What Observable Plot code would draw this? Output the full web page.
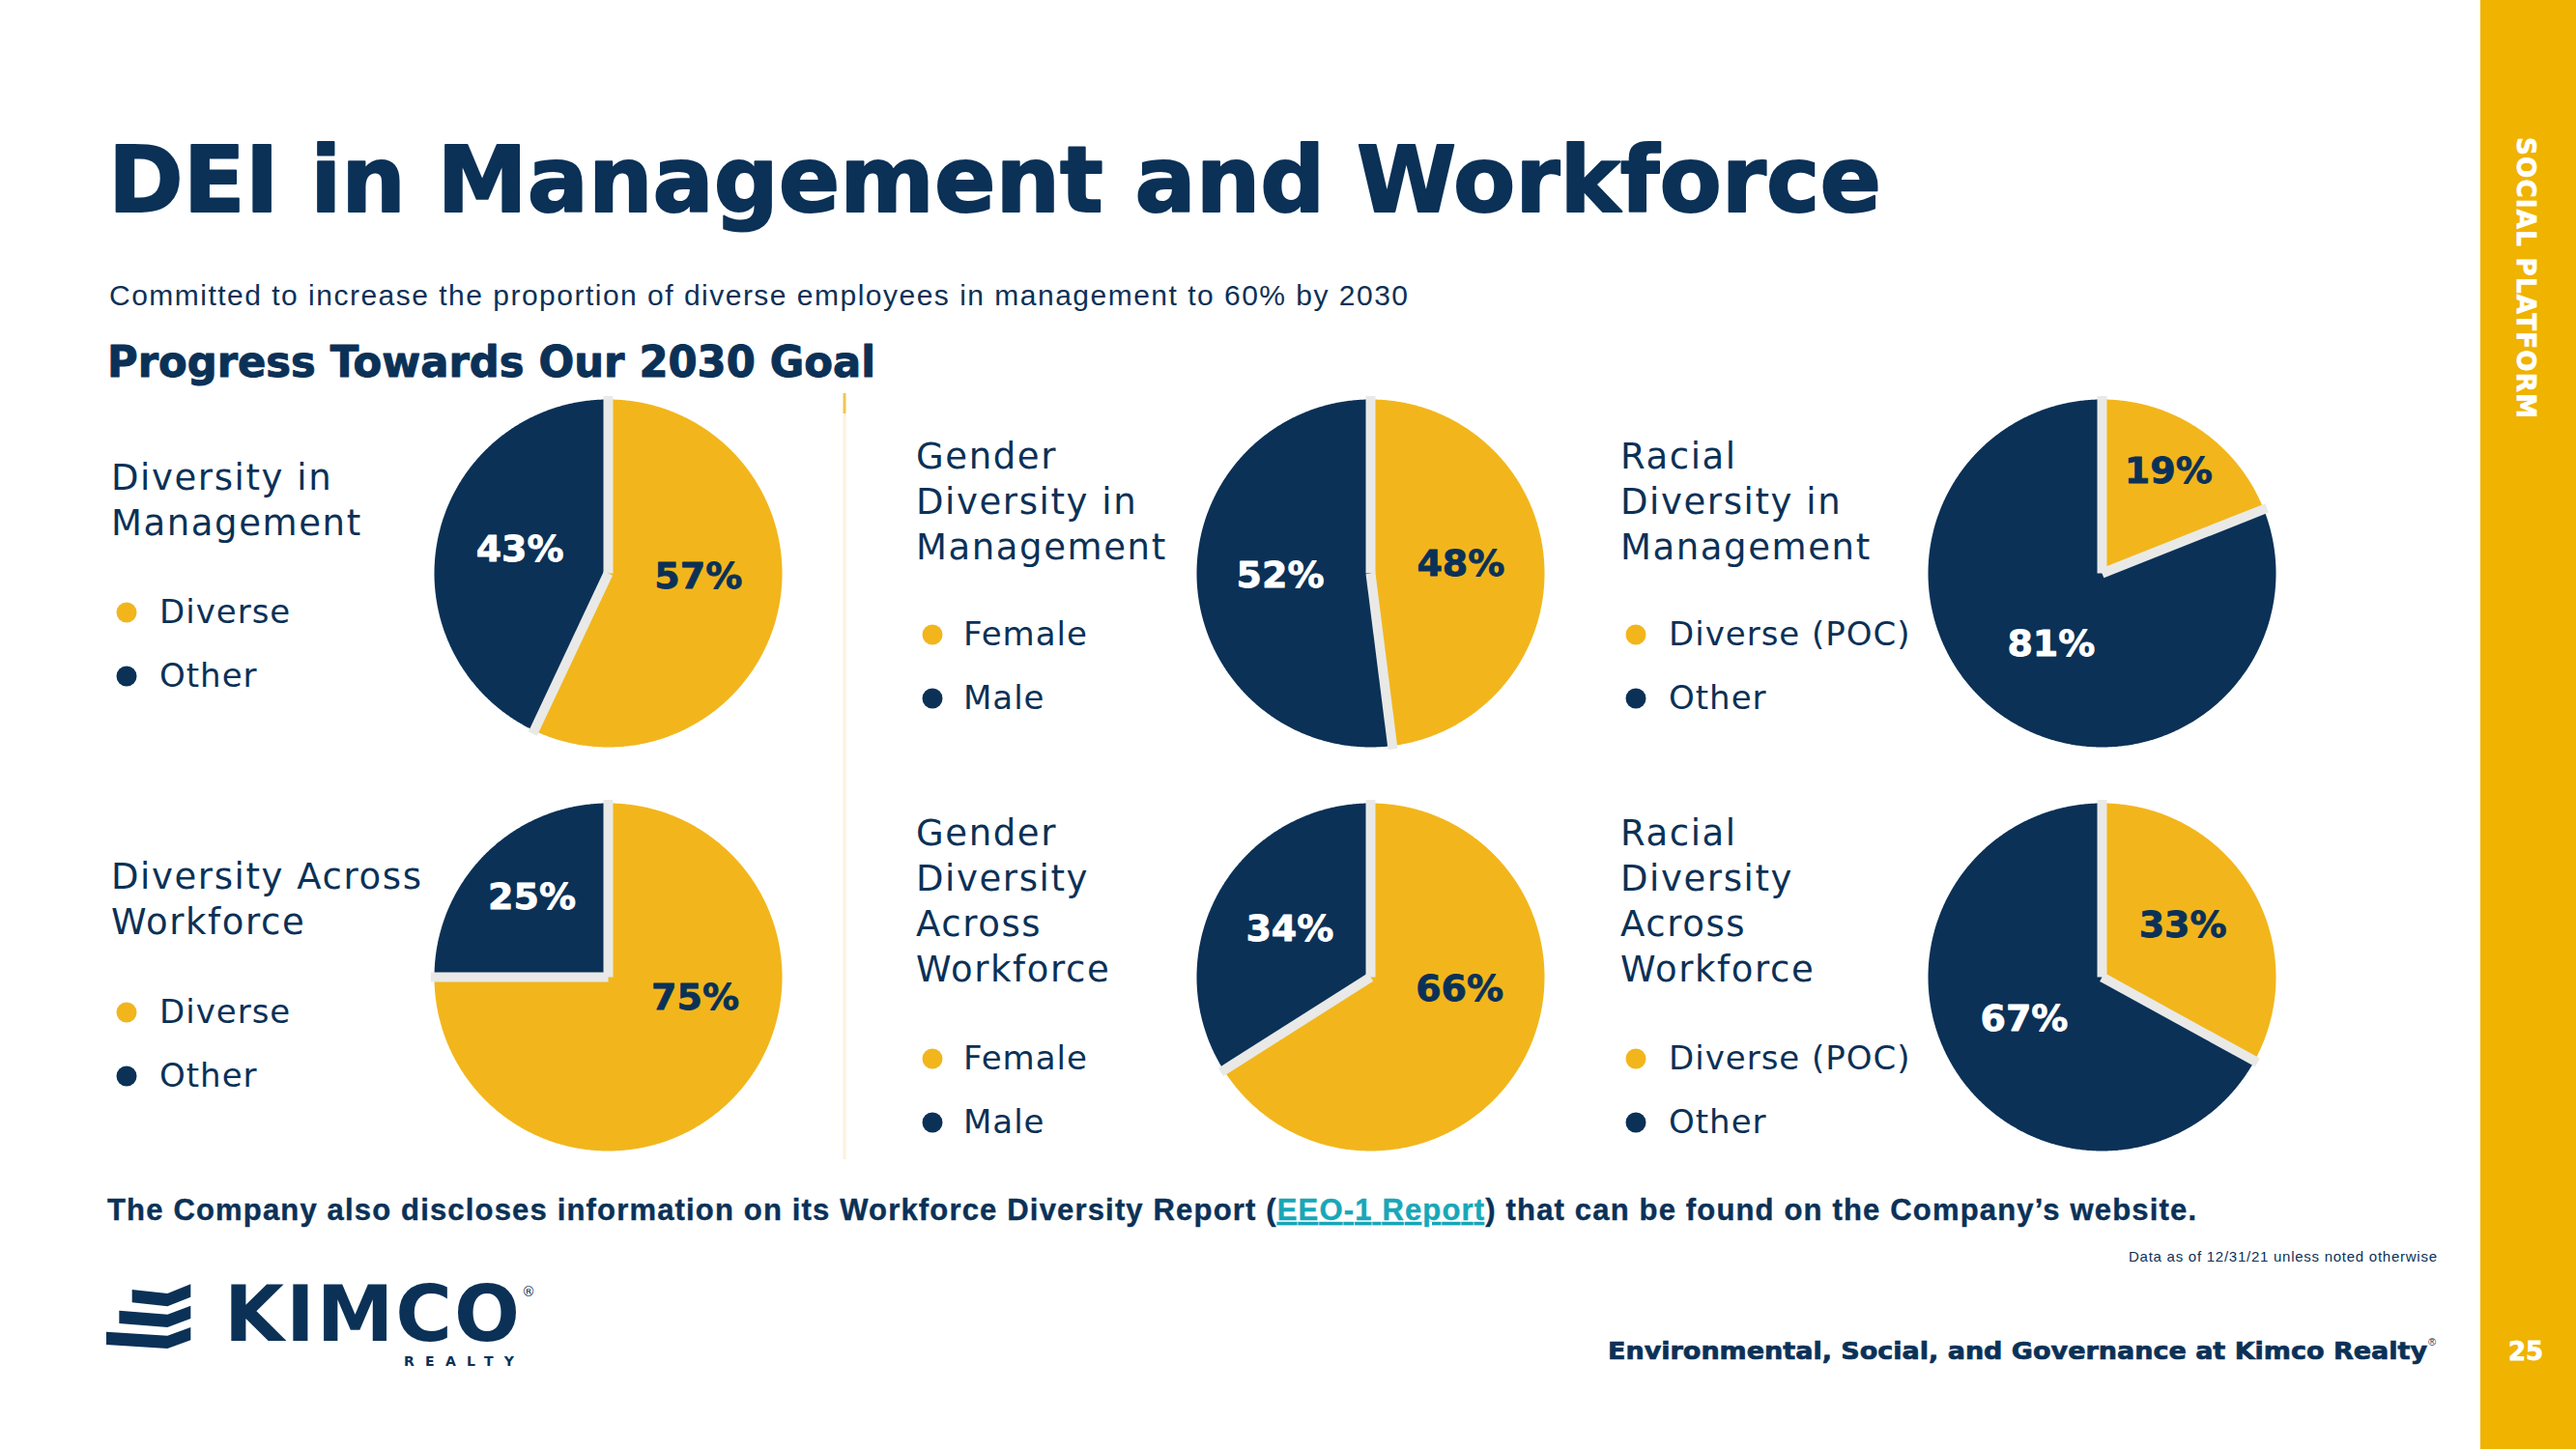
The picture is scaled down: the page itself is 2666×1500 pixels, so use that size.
<!DOCTYPE html>
<html><head><meta charset="utf-8">
<script src="https://cdn.jsdelivr.net/npm/d3@7"></script>
<script src="https://cdn.jsdelivr.net/npm/@observablehq/plot@0.6"></script>
<style>
html,body{margin:0;padding:0;background:#fff;}
#page{position:relative;width:2666px;height:1500px;overflow:hidden;background:#fff;}
#page svg.pie{position:absolute;background:transparent !important;max-width:none;}
#overlay{position:absolute;left:0;top:0;}
</style></head>
<body><div id="page"></div>
<script>
// ---------- data ----------
const pieTitles = [
  "Diversity in\nManagement",
  "Gender\nDiversity in\nManagement",
  "Racial\nDiversity in\nManagement",
  "Diversity Across\nWorkforce",
  "Gender\nDiversity\nAcross\nWorkforce",
  "Racial\nDiversity\nAcross\nWorkforce"
];
const primaryLabels = ["Diverse", "Female", "Diverse (POC)", "Diverse", "Female", "Diverse (POC)"];
const secondaryLabels = ["Other", "Male", "Other", "Other", "Male", "Other"];
const primaryValues = [57, 48, 19, 75, 66, 33];
const secondaryValues = [43, 52, 81, 25, 34, 67];

const pageTitle = "DEI in Management and Workforce";
const pageSubtitle = "Committed to increase the proportion of diverse employees in management to 60% by 2030";
const sectionTitle = "Progress Towards Our 2030 Goal";
const footerParts = ["The Company also discloses information on its Workforce Diversity Report (", "EEO-1 Report", ") that can be found on the Company\u2019s website."];
const dataNote = "Data as of 12/31/21 unless noted otherwise";
const footerBrand = "Environmental, Social, and Governance at Kimco Realty";
const sideLabel = "SOCIAL PLATFORM";
const pageNumber = "25";

// ---------- style ----------
const NAVY = "#0b3157", GOLD = "#f2b61c", SEP = "#e9e9e7", SIDEBAR = "#efb300", TEAL = "#17a7b8";
const allLabels = ["Diverse", "Female", "Diverse (POC)", "Other", "Male"];
const allColors = [GOLD, GOLD, GOLD, NAVY, NAVY];
const HEAVY = "DejaVu Sans, Verdana, sans-serif";

// ---------- layout ----------
const colCenter = [629, 1418, 2175], rowCenter = [593, 1011];
const titleX = [115, 948, 1677], dotX = [131, 965, 1693], legX = [165, 997, 1727];
const titleBase = [507, 485, 485, 920, 875, 875];
const legendBase = [645, 668, 668, 1059, 1107, 1107];
const R = 180, HALF = 200;

const page = d3.select("#page");
const svg = page.append("svg").attr("id", "overlay").attr("width", 2666).attr("height", 1500);

// sidebar
svg.append("rect").attr("x", 2567).attr("y", 0).attr("width", 99).attr("height", 1500).attr("fill", SIDEBAR);
svg.append("text").attr("transform", "translate(2605,142) rotate(90)")
  .attr("font-family", HEAVY).attr("font-weight", "bold").attr("font-size", 26)
  .attr("fill", "#fff").attr("stroke", "#fff").attr("stroke-width", 0.8)
  .attr("textLength", 291).attr("lengthAdjust", "spacing").text(sideLabel);
svg.append("text").attr("x", 2614).attr("y", 1408).attr("text-anchor", "middle")
  .attr("font-family", HEAVY).attr("font-weight", "bold").attr("font-size", 26)
  .attr("fill", "#fff").attr("stroke", "#fff").attr("stroke-width", 0.8).text(pageNumber);

// header
svg.append("text").attr("x", 112).attr("y", 219)
  .attr("font-family", HEAVY).attr("font-weight", "bold").attr("font-size", 95)
  .attr("fill", NAVY).attr("stroke", NAVY).attr("stroke-width", 2).attr("stroke-linejoin", "round")
  .attr("textLength", 1835).attr("lengthAdjust", "spacingAndGlyphs").text(pageTitle);
svg.append("text").attr("x", 113).attr("y", 316)
  .attr("font-family", "Liberation Sans Narrow, Arial Narrow, Liberation Sans, sans-serif").attr("font-size", 30)
  .attr("fill", NAVY).attr("textLength", 1344).attr("lengthAdjust", "spacing").text(pageSubtitle);
svg.append("text").attr("x", 111).attr("y", 390)
  .attr("font-family", HEAVY).attr("font-weight", "bold").attr("font-size", 44)
  .attr("fill", NAVY).attr("stroke", NAVY).attr("stroke-width", 1).attr("stroke-linejoin", "round")
  .attr("textLength", 795).attr("lengthAdjust", "spacingAndGlyphs").text(sectionTitle);

// divider
svg.append("line").attr("x1", 874).attr("x2", 874).attr("y1", 428).attr("y2", 1200).attr("stroke", "#faf2dc").attr("stroke-width", 3);
svg.append("line").attr("x1", 874).attr("x2", 874).attr("y1", 407).attr("y2", 428).attr("stroke", "#f2c452").attr("stroke-width", 3);

// footer
const ft = svg.append("text").attr("x", 111).attr("y", 1263)
  .attr("font-family", "Liberation Sans Narrow, Arial Narrow, Liberation Sans, sans-serif").attr("font-weight", "bold").attr("font-size", 31)
  .attr("fill", NAVY).attr("stroke", NAVY).attr("stroke-width", 0.4)
  .attr("textLength", 2162).attr("lengthAdjust", "spacing");
ft.append("tspan").text(footerParts[0]);
ft.append("tspan").attr("fill", TEAL).attr("stroke", TEAL).style("text-decoration", "underline").text(footerParts[1]);
ft.append("tspan").text(footerParts[2]);

svg.append("text").attr("x", 2522).attr("y", 1306).attr("text-anchor", "end")
  .attr("font-family", "Liberation Sans, Arial, sans-serif").attr("font-size", 15)
  .attr("fill", NAVY).attr("textLength", 319).attr("lengthAdjust", "spacing").text(dataNote);
svg.append("text").attr("x", 2512).attr("y", 1407).attr("text-anchor", "end")
  .attr("font-family", HEAVY).attr("font-weight", "bold").attr("font-size", 24)
  .attr("fill", NAVY).attr("stroke", NAVY).attr("stroke-width", 0.7)
  .attr("textLength", 848).attr("lengthAdjust", "spacingAndGlyphs").text(footerBrand);
svg.append("text").attr("x", 2513).attr("y", 1393)
  .attr("font-family", "Liberation Sans, Arial, sans-serif").attr("font-size", 11).attr("fill", NAVY).text("\u00AE");

// logo
const logo = svg.append("g").attr("fill", NAVY);
const zx = v => 90 + v / 3, zy = v => 1300 + v / 3;
[[140, 105], [100, 170], [60, 236]].forEach(([lx, ty], k) => {
  const top = ty, rTop = 88 + k * 67;
  const pts = [[lx, top], [250, top + 12], [322, rTop], [322, rTop + 40], [250, top + 52], [lx, top + 40]];
  logo.append("polygon").attr("points", pts.map(([a, b]) => zx(a) + "," + zy(b)).join(" "));
});
logo.append("text").attr("x", 232).attr("y", 1388)
  .attr("font-family", HEAVY).attr("font-weight", "bold").attr("font-size", 80)
  .attr("textLength", 306).attr("lengthAdjust", "spacing").text("KIMCO");
logo.append("text").attr("x", 418).attr("y", 1414)
  .attr("font-family", HEAVY).attr("font-weight", "bold").attr("font-size", 14)
  .attr("textLength", 114).attr("lengthAdjust", "spacing").text("REALTY");
logo.append("text").attr("x", 540).attr("y", 1342)
  .attr("font-family", HEAVY).attr("font-size", 14).text("\u00AE");

// pie titles and legends
pieTitles.forEach((t, i) => {
  const col = i % 3;
  const tx = svg.append("text").attr("font-family", "DejaVu Sans, sans-serif").attr("font-size", 37)
    .attr("letter-spacing", 1.6).attr("fill", NAVY);
  t.split("\n").forEach((line, k) => {
    tx.append("tspan").attr("x", titleX[col]).attr("y", titleBase[i] + k * 47).text(line);
  });
  [primaryLabels[i], secondaryLabels[i]].forEach((lab, k) => {
    const b = legendBase[i] + k * 66;
    svg.append("circle").attr("cx", dotX[col]).attr("cy", b - 11).attr("r", 10.5).attr("fill", k === 0 ? GOLD : NAVY);
    svg.append("text").attr("x", legX[col]).attr("y", b).attr("font-family", "DejaVu Sans, sans-serif")
      .attr("font-size", 34).attr("letter-spacing", 1).attr("fill", NAVY).text(lab);
  });
});

// pies with Plot
function piePlot(i) {
  const vals = [primaryValues[i], secondaryValues[i]];
  const labs = [primaryLabels[i], secondaryLabels[i]];
  const total = d3.sum(vals);
  let acc = 0;
  const slices = vals.map((v, j) => {
    const a0 = acc / total * 2 * Math.PI; acc += v;
    const a1 = acc / total * 2 * Math.PI;
    return {label: labs[j], value: v, frac: v / total, a0, a1, role: j};
  });
  const outline = slices.flatMap(s => {
    const n = Math.max(2, Math.ceil((s.a1 - s.a0) / (Math.PI / 360)));
    const pts = [{slice: s.label, x: 0, y: 0}];
    for (let k = 0; k <= n; k++) {
      const a = s.a0 + (s.a1 - s.a0) * k / n;
      pts.push({slice: s.label, x: Math.sin(a), y: Math.cos(a)});
    }
    pts.push({slice: s.label, x: 0, y: 0});
    return pts;
  });
  const bounds = slices.map(s => ({a: s.a0}));
  const labels = slices.map(s => {
    let m = (s.a0 + s.a1) / 2;
    // a large first slice keeps its label near the horizontal
    if (s.role === 0 && s.frac > 0.5) m = Math.PI / 2 + (m - Math.PI / 2) * 0.35;
    const r = 0.52 + Math.max(0, 0.35 - s.frac);
    return {text: s.value + "%", x: r * Math.sin(m), y: r * Math.cos(m), role: s.role};
  });
  const ext = HALF / R;
  const txt = {x: "x", y: "y", text: "text", dy: -4, fontSize: 38, fontWeight: "bold",
    fontFamily: "DejaVu Sans, sans-serif", strokeWidth: 0.8};
  return Plot.plot({
    width: 2 * HALF, height: 2 * HALF, margin: 0,
    x: {domain: [-ext, ext], axis: null},
    y: {domain: [-ext, ext], axis: null},
    color: {domain: allLabels, range: allColors},
    style: {background: "transparent"},
    marks: [
      Plot.line(outline, {x: "x", y: "y", z: "slice", fill: "slice", stroke: "none", curve: "linear"}),
      Plot.link(bounds, {x1: 0, y1: 0, x2: d => 1.02 * Math.sin(d.a), y2: d => 1.02 * Math.cos(d.a),
        stroke: SEP, strokeWidth: 10, strokeLinecap: "butt"}),
      Plot.text(labels.filter(d => d.role === 0), {...txt, fill: NAVY, stroke: NAVY}),
      Plot.text(labels.filter(d => d.role === 1), {...txt, fill: "#ffffff", stroke: "#ffffff"})
    ]
  });
}

primaryValues.forEach((_, i) => {
  const el = piePlot(i);
  el.classList.add("pie");
  el.style.left = (colCenter[i % 3] - HALF) + "px";
  el.style.top = (rowCenter[Math.floor(i / 3)] - HALF) + "px";
  el.style.background = "transparent";
  page.node().appendChild(el);
});
</script>
</body></html>
